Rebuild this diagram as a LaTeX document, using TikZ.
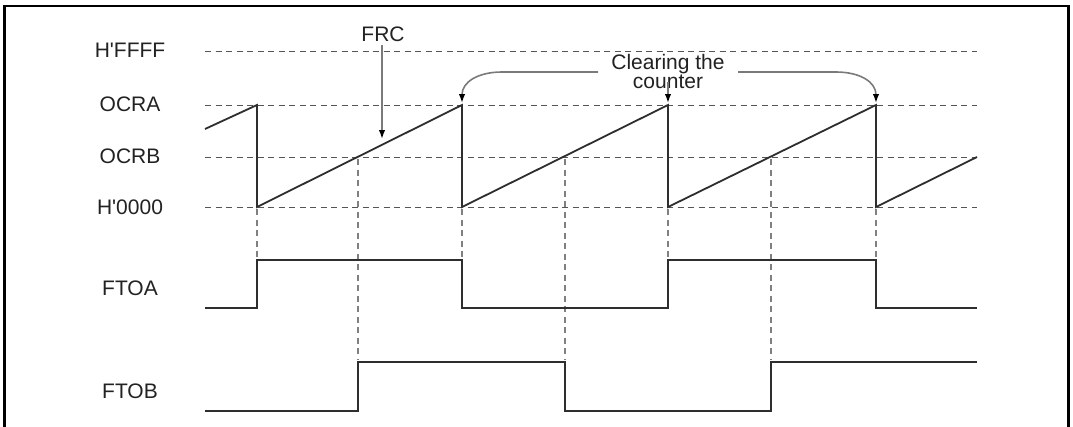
\documentclass[tikz,border=0pt]{standalone}
\usepackage{fontspec}
\setmainfont{Liberation Sans}
\usetikzlibrary{arrows.meta}
\definecolor{sig}{HTML}{2E2E2E}
\definecolor{txt}{HTML}{222222}
\definecolor{guide}{HTML}{555555}
\definecolor{vguide}{HTML}{808080}
\definecolor{arr}{HTML}{7A7A7A}
\begin{document}
\begin{tikzpicture}[x=1pt,y=-1pt,
  lbl/.style={font=\fontsize{21}{21}\selectfont, text=txt, inner sep=0pt},
  sigline/.style={draw=sig, line width=1.8pt, line join=miter},
  hguide/.style={draw=guide, line width=0.9pt, dash pattern=on 6pt off 4.5pt},
  vguideline/.style={draw=vguide, line width=1.2pt, dash pattern=on 6pt off 4.5pt},
  callout/.style={draw=arr, line width=1.6pt, -{Latex[black,length=9pt,width=6.5pt]}},
  frame/.style={draw=black, line width=2.2pt}
]
\useasboundingbox (0,0) rectangle (1073,426);
\fill[white] (0,0) rectangle (1073,426);
% frame (bottom edge outside picture)
\draw[frame] (4.5,430) -- (4.5,6) -- (1068.5,6) -- (1068.5,430);

% level labels
\node[lbl] (lffff) at (130,50) {H\textquotesingle FFFF};
\node[lbl] (locra) at (130,104) {OCRA};
\node[lbl] (locrb) at (130,156) {OCRB};
\node[lbl] (l0000) at (130,207) {H\textquotesingle 0000};
\node[lbl] (lftoa) at (130,288) {FTOA};
\node[lbl] (lftob) at (130,391) {FTOB};

% horizontal guides
\foreach \yy in {51,105,157,207}
  \draw[hguide] (205,\yy) -- (977,\yy);

% vertical guides
\foreach \xx in {257,462,668,876}
  \draw[vguideline] (\xx,209) -- (\xx,259);
\foreach \xx in {358,565,771}
  \draw[vguideline] (\xx,159) -- (\xx,360);

% FRC sawtooth
\draw[sigline] (205,129) -- (257,105) -- (257,207) -- (462,105) -- (462,207)
  -- (668,105) -- (668,207) -- (876,105) -- (876,207) -- (977,157);

% FTOA
\draw[sigline] (205,308) -- (257,308) -- (257,260) -- (462,260) -- (462,308)
  -- (668,308) -- (668,260) -- (876,260) -- (876,308) -- (977,308);

% FTOB
\draw[sigline] (205,411) -- (358,411) -- (358,362) -- (565,362) -- (565,411)
  -- (771,411) -- (771,362) -- (977,362);

% FRC label and arrow
\node[lbl] (frc) at (383,34) {FRC};
\coordinate (frcS) at (382,45);
\coordinate (frcT) at (382,139);
\draw[callout] (frcS) -- (frcT);

% Clearing the counter
\node[lbl, align=center, font=\fontsize{21}{19}\selectfont] (clr) at (668,71) {Clearing the\\counter};
\coordinate (cL) at (598,72);
\coordinate (cR) at (738,72);
\coordinate (cM) at (668,82);
\coordinate (t1) at (462,103);
\coordinate (t2) at (668,103);
\coordinate (t3) at (876,103);
\draw[callout] (cL) -- (502,72) .. controls (478,72) and (462,82) .. (t1);
\draw[callout] (cM) -- (t2);
\draw[callout] (cR) -- (836,72) .. controls (860,72) and (876,82) .. (t3);
\end{tikzpicture}
\end{document}
